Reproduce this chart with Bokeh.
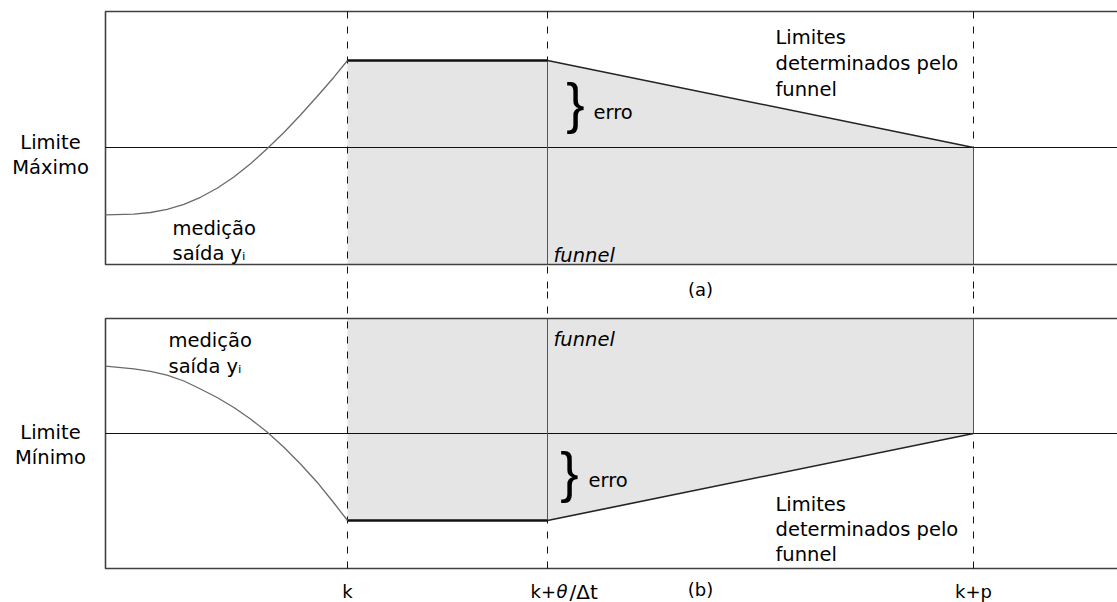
from bokeh.plotting import figure
from bokeh.models import Range1d
from bokeh.embed import file_html
from bokeh.resources import INLINE
from bokeh.core.properties import value

# ---- time axis (samples); k is placed at 0 ----
K = 0.0
DEAD_TIME = 10.0      # theta / delta t
HORIZON = 31.3        # p
T_START = -12.1       # first sample of the measured output
T_END = 38.5

LIMIT = 0.0           # the constraint (max in (a), min in (b))

# ---- panel (a): maximum limit ----
A_TOP, A_BOTTOM = 13.6, -11.7
A_PLATEAU = 8.7
a_t = [-12.1, -10.68, -9.85, -9.02, -8.18, -7.35, -6.52, -5.68, -4.85, -4.02,
       -3.18, -2.35, -1.52, -0.68, 0.0]
a_y = [-6.73, -6.67, -6.5, -6.18, -5.68, -4.98, -4.07, -2.95, -1.63, -0.13,
       1.5, 3.25, 5.1, 7.03, 8.7]

# ---- panel (b): minimum limit ----
B_TOP, B_BOTTOM = 11.5, -13.5
B_PLATEAU = -8.7
b_t = [-12.1, -10.68, -9.85, -9.02, -8.18, -7.35, -6.52, -5.68, -4.85, -4.02,
       -3.18, -2.35, -1.52, -0.68, 0.0]
b_y = [6.73, 6.47, 6.22, 5.84, 5.25, 4.45, 3.6, 2.6, 1.45, 0.15,
       -1.38, -3.05, -4.87, -6.95, -8.7]

# where the dashed guides meet between the two panels
GAP_A, GAP_B = -14.4, 14.2

tick_labels = ["k", "k+p"]
tick_pos = [K, HORIZON]

FONT = value("DejaVu Sans")
SIZE = "19.5px"

p = figure(width=1117, height=602, x_range=Range1d(-17.35, T_END),
           y_range=Range1d(-45.5, 14.7), x_axis_type=None, y_axis_type=None,
           output_backend="svg", toolbar_location=None, min_border=0)
p.extra_y_ranges = {"b": Range1d(-16.9, 43.3)}
p.grid.visible = False
p.outline_line_color = None
p.background_fill_color = "white"

SHADE = "#e5e5e5"
BOX = "#404040"

# ---- funnel areas ----
p.patch([K, K, DEAD_TIME, HORIZON, HORIZON],
        [A_BOTTOM, A_PLATEAU, A_PLATEAU, LIMIT, A_BOTTOM],
        fill_color=SHADE, line_color=None)
p.patch([K, K, DEAD_TIME, HORIZON, HORIZON],
        [B_TOP, B_PLATEAU, B_PLATEAU, LIMIT, B_TOP],
        fill_color=SHADE, line_color=None, y_range_name="b")

# ---- frames (open on the right) ----
for top, bottom, rng in [(A_TOP, A_BOTTOM, "default"), (B_TOP, B_BOTTOM, "b")]:
    p.line([T_END, T_START, T_START, T_END], [top, top, bottom, bottom],
           line_color=BOX, line_width=1.6, y_range_name=rng)
    p.line([T_START, T_END], [LIMIT, LIMIT], line_color="#111111",
           line_width=1.1, y_range_name=rng)

# ---- dashed guides at k, k+theta/dt, k+p ----
guides = [K, DEAD_TIME, HORIZON]
p.segment(x0=guides, y0=[A_TOP] * 3, x1=guides, y1=[GAP_A] * 3,
          line_color="#111111", line_width=1, line_dash="7 8")
p.segment(x0=guides, y0=[GAP_B] * 3, x1=guides, y1=[B_BOTTOM] * 3,
          line_color="#111111", line_width=1, line_dash="7 8", y_range_name="b")

# solid edges inside the funnel
p.segment(x0=[DEAD_TIME, HORIZON], y0=[A_BOTTOM, A_BOTTOM],
          x1=[DEAD_TIME, HORIZON], y1=[A_PLATEAU, LIMIT],
          line_color="#555555", line_width=1)
p.segment(x0=[DEAD_TIME, HORIZON], y0=[B_TOP, B_TOP],
          x1=[DEAD_TIME, HORIZON], y1=[B_PLATEAU, LIMIT],
          line_color="#555555", line_width=1, y_range_name="b")

# ---- funnel boundaries ----
p.line([K, DEAD_TIME], [A_PLATEAU, A_PLATEAU], line_color="#111111", line_width=2.6)
p.line([DEAD_TIME, HORIZON], [A_PLATEAU, LIMIT], line_color="#222222", line_width=1.6)
p.line([K, DEAD_TIME], [B_PLATEAU, B_PLATEAU], line_color="#111111", line_width=2.6,
       y_range_name="b")
p.line([DEAD_TIME, HORIZON], [B_PLATEAU, LIMIT], line_color="#222222", line_width=1.6,
       y_range_name="b")

# ---- measured output ----
p.line(a_t, a_y, line_color="#6a6a6a", line_width=1.3)
p.line(b_t, b_y, line_color="#6a6a6a", line_width=1.3, y_range_name="b")

# ---- texts ----
def put(x, y, texts, rng="default", align="left", size=SIZE, style="normal", font=FONT):
    p.text(x=x, y=y, text=texts, text_font=font, text_font_size=size,
           text_font_style=style, text_align=align, text_baseline="alphabetic",
           text_color="#000000", y_range_name=rng)

# panel (a)
put([-14.85, -14.85], [0.5, -2.0], ["Limite", "Máximo"], align="center")
put([-8.75, -8.75], [-8.1, -10.6], ["medição", "saída yᵢ"])
put([10.3], [-10.8], ["funnel"], style="italic")
put([12.3], [3.53], ["erro"])
put([21.4, 21.4, 21.4], [11.0, 8.4, 5.8], ["Limites", "determinados pelo", "funnel"])
put([17.65], [-14.2], ["(a)"], align="center", size="18px")
put([11.4], [4.5], ["}"], align="center", size="55px", font=value("Liberation Sans"))

# panel (b)
put([-14.85, -14.85], [0.1, -2.4], ["Limite", "Mínimo"], rng="b", align="center")
put([-8.95, -8.95], [9.3, 6.7], ["medição", "saída yᵢ"], rng="b")
put([10.3], [9.4], ["funnel"], rng="b", style="italic")
put([12.05], [-4.7], ["erro"], rng="b")
put([21.4, 21.4, 21.4], [-7.1, -9.6, -12.1], ["Limites", "determinados pelo", "funnel"], rng="b")
put([17.65], [-15.6], ["(b)"], rng="b", align="center", size="18px")
put([11.1], [-3.8], ["}"], rng="b", align="center", size="55px",
    font=value("Liberation Sans"))

# time labels
put(tick_pos, [-15.8] * 2, tick_labels, rng="b", align="center", size="18px")
put([9.15], [-15.8], ["k+"], rng="b", size="18px")
put([10.45], [-15.8], ["θ"], rng="b", size="18px", style="italic")
put([11.1], [-15.8], ["/Δt"], rng="b", size="20px")

open("out.html", "w").write(file_html(p, INLINE))
